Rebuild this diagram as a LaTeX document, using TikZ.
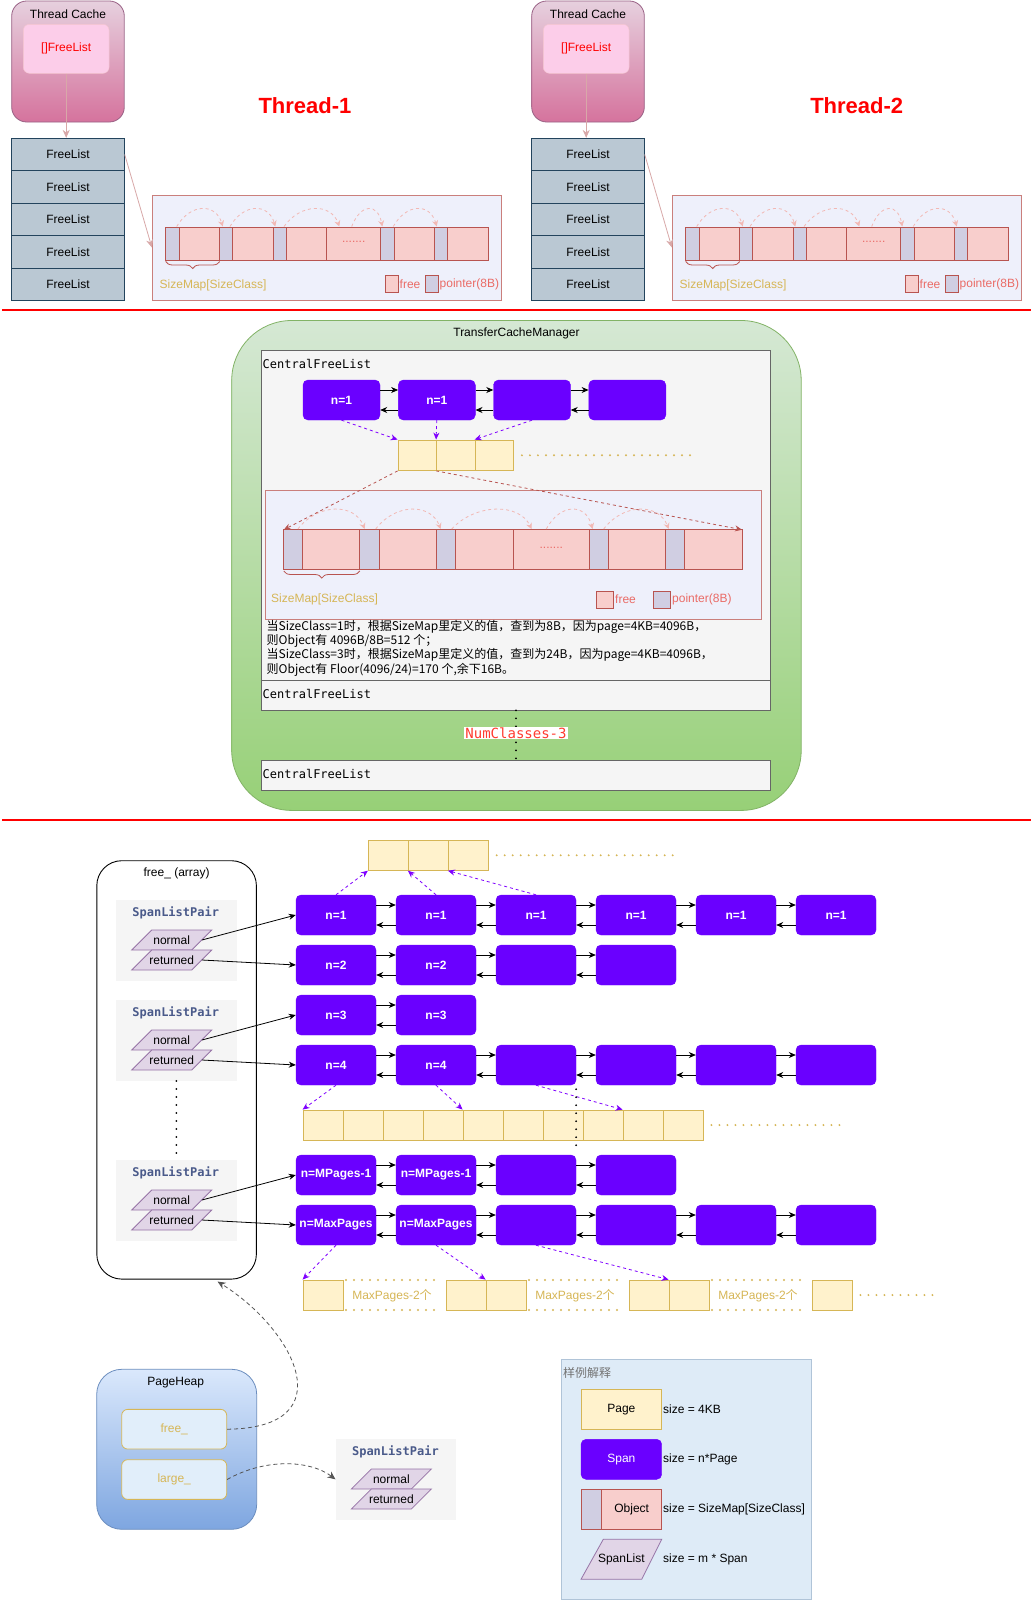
\documentclass[tikz,border=0pt]{standalone}
\usepackage{fontspec}
\setmainfont{Liberation Sans}
\newfontfamily\monof{DejaVu Sans Mono}
\newfontfamily\cjkf{Noto Sans CJK SC}
\usetikzlibrary{arrows.meta,calc,decorations.pathreplacing}

\definecolor{spanc}{HTML}{6A00FF}
\definecolor{purp}{HTML}{7F00FF}
\definecolor{pagef}{HTML}{FFF2CC}
\definecolor{pages}{HTML}{D6B656}
\definecolor{objf}{HTML}{F8CECC}
\definecolor{objs}{HTML}{B85450}
\definecolor{ptrf}{HTML}{D0CEE2}
\definecolor{boxf}{HTML}{EEF0FB}
\definecolor{lred}{HTML}{EA6B66}
\definecolor{arcc}{HTML}{F2B8B4}
\definecolor{tctop}{HTML}{E6D0DE}
\definecolor{tcbot}{HTML}{D5739D}
\definecolor{tcs}{HTML}{996185}
\definecolor{iflf}{HTML}{FCCDE9}
\definecolor{ifls}{HTML}{F4C5CF}
\definecolor{flf}{HTML}{BAC8D3}
\definecolor{fls}{HTML}{23445D}
\definecolor{tcarr}{HTML}{D8A8A8}
\definecolor{gtop}{HTML}{D5E8D4}
\definecolor{gbot}{HTML}{97D077}
\definecolor{gs}{HTML}{82B366}
\definecolor{cflf}{HTML}{F5F5F5}
\definecolor{cfls}{HTML}{666666}
\definecolor{btop}{HTML}{DAE8FC}
\definecolor{bbot}{HTML}{7EA6E0}
\definecolor{bs}{HTML}{6C8EBF}
\definecolor{phin}{HTML}{E1EEFA}
\definecolor{slpt}{HTML}{4A5A8A}
\definecolor{paraf}{HTML}{E1D5E7}
\definecolor{paras}{HTML}{9673A6}
\definecolor{lgf}{HTML}{DEEBF7}
\definecolor{lgs}{HTML}{B0C4D8}
\definecolor{numred}{HTML}{FF3B30}
\definecolor{curvc}{HTML}{555555}

\tikzset{
  f12/.style={font=\fontsize{12}{14}\selectfont},
  spanbox/.style={fill=spanc, draw=spanc, rounded corners=5pt, minimum width=80pt, minimum height=40pt, inner sep=0pt, text=white, font=\bfseries\fontsize{12}{14}\selectfont},
  pagebox/.style={fill=pagef, draw=pages, line width=0.8pt, minimum width=40pt, minimum height=30pt, inner sep=0pt},
  lnk/.style={black, line width=0.8pt, -{Stealth[length=7pt,width=6pt]}},
  pdash/.style={purp, line width=0.8pt, dash pattern=on 3pt off 3pt, -{Stealth[length=7pt,width=6pt]}},
  rdash/.style={objs, line width=0.8pt, dash pattern=on 3pt off 3pt, -{Stealth[length=7pt,width=6pt]}},
  ydots/.style={pages, line width=2.2pt, dash pattern=on 0pt off 8pt, line cap=round},
  kdots/.style={black, line width=2pt, dash pattern=on 0pt off 8pt, line cap=round},
  tcbox/.style={top color=tctop, bottom color=tcbot, draw=tcs, rounded corners=15pt, minimum width=112.6pt, minimum height=121pt, line width=0.8pt, inner sep=0pt},
  iflbox/.style={fill=iflf, draw=ifls, rounded corners=6pt, minimum width=85.7pt, minimum height=49pt, inner sep=0pt, text=red, f12},
  flrow/.style={fill=flf, draw=fls, line width=0.8pt, minimum width=112.6pt, minimum height=32.46pt, inner sep=0pt, f12},
  tcarrow/.style={tcarr, line width=0.8pt, -{Stealth[length=8pt,width=7pt]}},
  objframe/.style={fill=boxf, draw=objs!75, line width=0.8pt, inner sep=0pt},
  ptrcell/.style={fill=ptrf, draw=objs, line width=0.8pt},
  objcell/.style={fill=objf, draw=objs, line width=0.8pt},
  arcst/.style={arcc, line width=0.8pt, dash pattern=on 3pt off 3pt, -{Stealth[length=6pt,width=6pt]}},
  bracest/.style={objs, line width=0.8pt, decorate, decoration={brace, mirror, amplitude=7pt}},
  thrtitle/.style={text=red, font=\bfseries\fontsize{22}{26}\selectfont},
  cflbox/.style={fill=cflf, draw=cfls, line width=0.8pt, minimum width=509.3pt, inner sep=0pt},
  cfltxt/.style={anchor=west, inner sep=0pt, font=\monof\fontsize{12}{14}\selectfont},
  slpbg/.style={fill=cflf, minimum width=120.7pt, minimum height=80.7pt, inner sep=0pt},
  slptitle/.style={text=slpt, font=\monof\bfseries\fontsize{12}{14}\selectfont},
  para/.style={fill=paraf, draw=paras, line width=0.8pt},
  paratxt/.style={minimum width=60pt, minimum height=20pt, inner sep=0pt, f12},
  curv/.style={curvc, line width=0.8pt, dash pattern=on 4pt off 3pt, -{Stealth[length=8pt,width=7pt]}},
  dotstxt/.style={text=lred, font=\fontsize{12}{14}\selectfont},
  sep/.style={red, line width=2pt}
}

\newcommand\ThreadPart[1]{%
  \node[tcbox] (#1tc) at (68,61.5) {};
  \node[f12] (#1tct) at (68,14) {Thread Cache};
  \node[iflbox] (#1ifl) at (66.2,48.8) {[]FreeList};
  \foreach \i/\yy in {1/154.5,2/187,3/219.5,4/252,5/284.5}{
    \node[flrow] (#1fl\i) at (68,\yy) {FreeList};
  }
  \draw[tcarrow] (#1ifl.south) -- (#1ifl.south |- #1fl1.north);
  \node[objframe, minimum width=349.4pt, minimum height=105pt] (#1ob) at (327,247.5) {};
  \draw[tcarrow] (#1fl1.east) -- (#1ob.west);
  \foreach \l/\r in {179.3/219.7,232.7/273.3,286.3/326.7,326.7/380.7,394/434.7,447.7/488.3}
    \draw[objcell] (\l,227.3) rectangle (\r,260);
  \foreach \l/\r in {165.7/179.3,219.7/232.7,273.3/286.3,380.7/394,434.7/447.7}
    \draw[ptrcell] (\l,227.3) rectangle (\r,260);
  \node[dotstxt] (#1dd) at (353.7,241.5) {.......};
  \foreach \a/\b in {176.7/222.7,230/275.3,284/339.3,351.7/382.3,393.3/436.7}
    \draw[arcst] (\a,226.5) .. controls ({\a+0.3*(\b-\a)},203) and ({\b-0.15*(\b-\a)},203) .. (\b,226.5);
  \draw[bracest] (165.7,261.5) -- (219.7,261.5);
  \node[f12, text=pages, anchor=west, inner sep=0pt] (#1sm) at (159.5,285.7) {SizeMap[SizeClass]};
  \draw[objcell] (385,275.7) rectangle (398.3,292.3);
  \node[f12, text=lred, anchor=west, inner sep=0pt] (#1fr) at (399.5,284.5) {free};
  \draw[ptrcell] (425,275.7) rectangle (438.3,292.3);
  \node[f12, text=lred, anchor=west, inner sep=0pt] (#1pt) at (439.5,284.5) {pointer(8B)};
}

\newcommand\SLP[3]{%
  \node[slpbg] (#1bg) at (#2+60.35,#3+40.35) {};
  \node[slptitle] (#1t) at (#2+59.7,#3+13.3) {SpanListPair};
  \draw[para] (#2+35.7,#3+30) -- (#2+95.7,#3+30) -- (#2+75.7,#3+50) -- (#2+15.7,#3+50) -- cycle;
  \draw[para] (#2+35.7,#3+50) -- (#2+95.7,#3+50) -- (#2+75.7,#3+70) -- (#2+15.7,#3+70) -- cycle;
  \node[paratxt] (#1n) at (#2+55.7,#3+40) {normal};
  \node[paratxt] (#1r) at (#2+55.7,#3+60) {returned};
}

\begin{document}
\begin{tikzpicture}[x=1pt,y=-1pt]
\fill[white] (0,0) rectangle (1035,1601);
\useasboundingbox (0,0) rectangle (1035,1601);

% ---------------- Thread section ----------------
\ThreadPart{a}
\begin{scope}[xshift=520pt]
\ThreadPart{b}
\end{scope}
\node[thrtitle] (t1title) at (305,106) {Thread-1};
\node[thrtitle] (t2title) at (856.7,106) {Thread-2};
\draw[sep] (2,309.5) -- (1031,309.5);

% ---------------- Transfer cache section ----------------
\node[top color=gtop, bottom color=gbot, draw=gs, line width=0.8pt, rounded corners=60pt, minimum width=569.5pt, minimum height=489.9pt, inner sep=0pt] (tcm) at (516.45,565.45) {};
\node[f12] (tcmt) at (516.5,333) {TransferCacheManager};
\node[cflbox, minimum height=330pt] (cfl1) at (515.95,515) {};
\node[cfltxt] (cfl1t) at (262.5,363.5) {CentralFreeList};
\node[cflbox, minimum height=30pt] (cfl2) at (515.95,695) {};
\node[cfltxt] (cfl2t) at (262.5,694) {CentralFreeList};
\node[cflbox, minimum height=30pt] (cfl3) at (515.95,775) {};
\node[cfltxt] (cfl3t) at (262.5,774) {CentralFreeList};
\draw[kdots] (cfl2.south) -- (cfl3.north);
\node[fill=white, text=numred, inner sep=1pt, font=\monof\fontsize{14}{16}\selectfont] (numc) at (516,733) {NumClasses-3};

\foreach \c/\x/\t in {1/341.5/{n=1},2/436.8/{n=1},3/532/{},4/627.3/{}}
  \node[spanbox, minimum width=77pt] (m\c) at (\x,400) {\t};
\foreach \c in {2,3,4}{
  \pgfmathtruncatemacro\p{\c-1}
  \draw[lnk] ([yshift=10pt]m\p.east) -- ([yshift=10pt]m\c.west);
  \draw[lnk] ([yshift=-10pt]m\c.west) -- ([yshift=-10pt]m\p.east);
}
\foreach \i/\x in {1/417.25,2/455.75,3/494.25}
  \node[pagebox, minimum width=38.5pt, minimum height=30.5pt] (mp\i) at (\x,455.25) {};
\draw[ydots] ([xshift=8pt]mp3.east) -- (691,455.25);
\draw[pdash] (m1.south) -- (mp1.north west);
\draw[pdash] (m2.south) -- (mp2.north west);
\draw[pdash] (m3.south) -- (mp3.north west);

\node[objframe, minimum width=496pt, minimum height=129.6pt] (mrb) at (513.4,554.8) {};
\foreach \l/\r in {302.7/359.8,379.1/436.2,455.4/513,513/589.6,608.5/665.6,684.5/742}
  \draw[objcell] (\l,529.7) rectangle (\r,569.5);
\foreach \l/\r in {283.8/302.7,359.8/379.1,436.2/455.4,589.6/608.5,665.6/684.5}
  \draw[ptrcell] (\l,529.7) rectangle (\r,569.5);
\node[dotstxt] (mdd) at (551.3,547.5) {.......};
\foreach \a/\b in {297.9/364.6,375.7/440.6,451.7/531.5,546.3/592.6,603.7/668.6}
  \draw[arcst] (\a,529) .. controls ({\a+0.3*(\b-\a)},503) and ({\b-0.15*(\b-\a)},503) .. (\b,529);
\draw[bracest] (283.8,571) -- (359.8,571);
\node[f12, text=pages, anchor=west, inner sep=0pt] (msm) at (271,599) {SizeMap[SizeClass]};
\draw[objcell] (596,591) rectangle (613.5,608.4);
\node[f12, text=lred, anchor=west, inner sep=0pt] (mfr) at (615,599.5) {free};
\draw[ptrcell] (653,591) rectangle (670.6,608.4);
\node[f12, text=lred, anchor=west, inner sep=0pt] (mpt) at (672,599.5) {pointer(8B)};
\coordinate (oTL) at (283.8,529.7);
\coordinate (oTR) at (742,529.7);
\draw[rdash] (mp1.south west) -- (oTL);
\draw[rdash] (mp2.south west) -- (oTR);

\node[anchor=north west, inner sep=0pt, align=left, font=\cjkf\fontsize{12}{14.3}\selectfont] (cntxt) at (266.5,620) {当SizeClass=1时，根据SizeMap里定义的值，查到为8B，因为page=4KB=4096B，\\则Object有 4096B/8B=512 个；\\当SizeClass=3时，根据SizeMap里定义的值，查到为24B，因为page=4KB=4096B，\\则Object有 Floor(4096/24)=170 个,余下16B。};

\draw[sep] (2,819.5) -- (1031,819.5);

% ---------------- Page heap section ----------------
\node[draw=black, line width=0.9pt, fill=white, rounded corners=25pt, minimum width=159.6pt, minimum height=418.4pt, inner sep=0pt] (arr) at (176.6,1069.9) {};
\node[f12] (arrt) at (176.6,873.7) {free\_ (array)};
\SLP{p1}{116}{900}
\SLP{p2}{116}{1000}
\SLP{p3}{116}{1160}
\draw[kdots] (p2bg.south) -- (p3bg.north);

\foreach \r/\y/\n/\m/\t in {1/915/6/6/{n=1},2/965/4/2/{n=2},3/1015/2/2/{n=3},4/1065/6/2/{n=4},5/1175/4/2/{n=MPages-1},6/1225/6/2/{n=MaxPages}}{
  \foreach \c in {1,...,\n}{
    \ifnum\c>\m\relax
      \node[spanbox] (s\r-\c) at ({236+100*\c},\y) {};
    \else
      \node[spanbox] (s\r-\c) at ({236+100*\c},\y) {\t};
    \fi
  }
  \foreach \c in {2,...,\n}{
    \pgfmathtruncatemacro\p{\c-1}
    \draw[lnk] ([yshift=10pt]s\r-\p.east) -- ([yshift=10pt]s\r-\c.west);
    \draw[lnk] ([yshift=-10pt]s\r-\c.west) -- ([yshift=-10pt]s\r-\p.east);
  }
}
\draw[lnk] (p1n.east) -- (s1-1.west);
\draw[lnk] (p1r.east) -- (s2-1.west);
\draw[lnk] (p2n.east) -- (s3-1.west);
\draw[lnk] (p2r.east) -- (s4-1.west);
\draw[lnk] (p3n.east) -- (s5-1.west);
\draw[lnk] (p3r.east) -- (s6-1.west);

% top pages
\foreach \i in {1,2,3}
  \node[pagebox] (tp\i) at ({348.3+40*\i},855.3) {};
\draw[ydots] ([xshift=8pt]tp3.east) -- (674,855.3);
\draw[pdash] (s1-1.north) -- (tp1.south west);
\draw[pdash] (s1-2.north) -- (tp2.south west);
\draw[pdash] (s1-3.north) -- (tp3.south west);

% middle pages
\foreach \i in {1,...,10}
  \node[pagebox] (mq\i) at ({283+40*\i},1125) {};
\draw[ydots] ([xshift=8pt]mq10.east) -- (842,1125);
\draw[pdash] (s4-1.south) -- (mq1.north west);
\draw[pdash] (s4-2.south) -- (mq5.north west);
\draw[pdash] (s4-3.south) -- (mq9.north west);
\draw[kdots] ([yshift=-4pt]s4-3.south east) -- ([yshift=2pt]s5-3.north east);

% bottom pages
\foreach \i/\x in {1/323,2/466,3/506,4/649,5/689,6/832}
  \node[pagebox] (bq\i) at (\x,1295) {};
\foreach \i/\l/\r in {1/343/441,2/526/624,3/709/807}{
  \node[f12, text=pages] (mx\i) at ({(\l+\r)/2},1295.5) {MaxPages-2{\cjkf 个}};
  \draw[ydots] (\l+3,1280) -- (\r,1280);
  \draw[ydots] (\l+3,1310) -- (\r,1310);
}
\draw[ydots] ([xshift=8pt]bq6.east) -- (936,1295);
\draw[pdash] (s6-1.south) -- (bq1.north west);
\draw[pdash] (s6-2.south) -- (bq3.north west);
\draw[pdash] (s6-3.south) -- (bq5.north west);

% PageHeap
\node[top color=btop, bottom color=bbot, draw=bs, line width=0.8pt, rounded corners=25pt, minimum width=160pt, minimum height=160pt, inner sep=0pt] (ph) at (176.7,1449.3) {};
\node[f12] (pht) at (175.7,1382.7) {PageHeap};
\node[fill=phin, draw=pages, line width=0.8pt, rounded corners=6pt, minimum width=105pt, minimum height=39.7pt, inner sep=0pt, text=pages, f12] (phf) at (174.2,1429.2) {free\_};
\node[fill=phin, draw=pages, line width=0.8pt, rounded corners=6pt, minimum width=105pt, minimum height=39.7pt, inner sep=0pt, text=pages, f12] (phl) at (174.2,1479.5) {large\_};
\SLP{p4}{335.7}{1439}
\draw[curv] (phf.east) .. controls (345,1428) and (295,1330) .. ([xshift=41pt,yshift=-2pt]arr.south);
\draw[curv] (phl.east) .. controls (265,1458) and (310,1460) .. (p4bg.west);

% Legend
\node[fill=lgf, draw=lgs, line width=0.8pt, minimum width=250.7pt, minimum height=240pt, inner sep=0pt] (lg) at (686.35,1479.3) {};
\node[anchor=west, inner sep=0pt, text=black!55, font=\cjkf\fontsize{12}{14}\selectfont] (lgt) at (563,1373.3) {样例解释};
\node[pagebox, minimum width=80.7pt, minimum height=40pt, f12] (lgp) at (621.35,1409.3) {Page};
\node[spanbox, minimum width=80.7pt, font=\fontsize{12}{14}\selectfont] (lgs1) at (621.35,1459.3) {Span};
\draw[objcell] (601.7,1489.3) rectangle (661.7,1529.3);
\draw[ptrcell] (581,1489.3) rectangle (601.7,1529.3);
\node[f12] (lgo) at (631.7,1509.3) {Object};
\draw[para] (603.3,1539.3) -- (661.7,1539.3) -- (641.7,1579.3) -- (581,1579.3) -- cycle;
\node[f12] (lgsl) at (621.35,1559.3) {SpanList};
\node[f12, anchor=west, inner sep=0pt] (lgd1) at (663,1409.3) {size = 4KB};
\node[f12, anchor=west, inner sep=0pt] (lgd2) at (663,1459.3) {size = n*Page};
\node[f12, anchor=west, inner sep=0pt] (lgd3) at (663,1509.3) {size = SizeMap[SizeClass]};
\node[f12, anchor=west, inner sep=0pt] (lgd4) at (663,1559.3) {size = m * Span};
\end{tikzpicture}
\end{document}
